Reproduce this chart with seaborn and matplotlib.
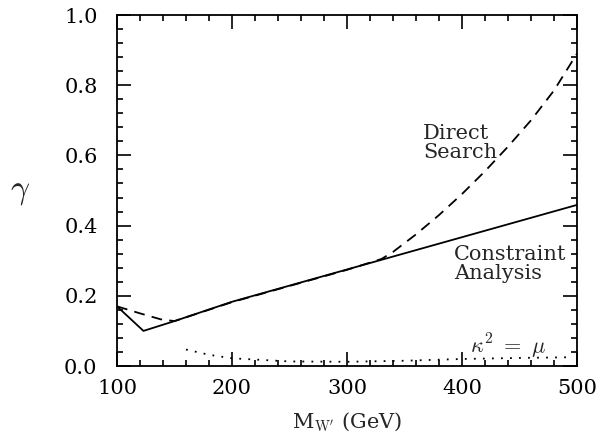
import matplotlib
matplotlib.use("Agg")
import matplotlib.pyplot as plt
import seaborn as sns
from matplotlib.ticker import MultipleLocator

sns.set_style("ticks")
plt.rcParams['font.family'] = ['DejaVu Serif']
plt.rcParams['mathtext.fontset'] = 'cm'

# constraint analysis (solid)
M_CA = [100, 123, 150, 200, 250, 300, 350, 400, 450, 500]
G_CA = [0.170, 0.100, 0.128, 0.183, 0.229, 0.275, 0.321, 0.367, 0.413, 0.459]

# direct search (dashed)
M_DS = [100, 120, 138, 150, 200, 250, 300, 330, 340, 350, 360, 380, 400, 420, 440, 460, 480, 500]
G_DS = [0.170, 0.150, 0.133, 0.128, 0.182, 0.228, 0.274, 0.305, 0.325, 0.350, 0.375,
        0.430, 0.490, 0.555, 0.625, 0.700, 0.785, 0.890]

# kappa^2 = mu (dotted)
M_K = [160, 180, 200, 250, 300, 350, 400, 450, 495]
G_K = [0.047, 0.032, 0.022, 0.013, 0.012, 0.015, 0.020, 0.023, 0.025]

fig = plt.figure(figsize=(6.05, 4.43), dpi=100)
ax = fig.add_axes([0.1934, 0.1738, 0.7603, 0.7923])

sns.lineplot(x=M_CA, y=G_CA, ax=ax, color='black', linewidth=1.3)
sns.lineplot(x=M_DS, y=G_DS, ax=ax, color='black', linewidth=1.3, linestyle=(0, (6, 4)))
sns.lineplot(x=M_K, y=G_K, ax=ax, color='black', linewidth=1.3, linestyle=(0, (1, 4)))

ax.text(366, 0.69, 'Direct\nSearch', fontsize=15, va='top', ha='left', linespacing=1.0)
ax.text(393, 0.345, 'Constraint\nAnalysis', fontsize=15, va='top', ha='left', linespacing=1.0)
ax.text(407, 0.055, r'$\kappa^2\ =\ \mu$', fontsize=16, va='center', ha='left')

ax.set_xlim(100, 500)
ax.set_ylim(0, 1)
ax.xaxis.set_major_locator(MultipleLocator(100))
ax.xaxis.set_minor_locator(MultipleLocator(20))
ax.yaxis.set_major_locator(MultipleLocator(0.2))
ax.yaxis.set_minor_locator(MultipleLocator(0.04))
ax.yaxis.set_major_formatter(plt.FuncFormatter(lambda v, p: f"{v:.1f}"))
ax.tick_params(which='both', direction='in', top=True, right=True, width=1.2, colors='black')
ax.tick_params(which='major', length=10, labelsize=15)
ax.tick_params(axis='y', which='major', pad=14)
ax.tick_params(axis='x', which='major', pad=9)
ax.tick_params(which='minor', length=4.5)
for s in ax.spines.values():
    s.set_linewidth(1.3)
    s.set_color('black')

ax.set_xlabel(r"M$_{\rm W'}$ (GeV)", fontsize=15, labelpad=10)
ax.set_ylabel(r"$\gamma$", fontsize=24, rotation=0, labelpad=32, va='center')

fig.savefig("out.png", dpi=100)
